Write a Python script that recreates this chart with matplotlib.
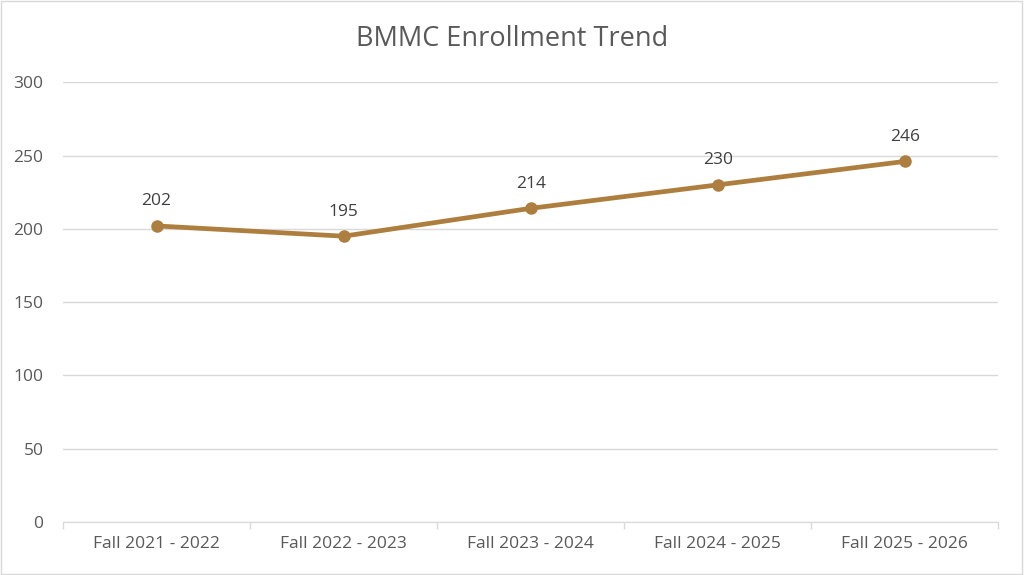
import numpy as np
import matplotlib
matplotlib.use("Agg")
import matplotlib.pyplot as plt
from matplotlib.patches import Rectangle

# Chart data
terms = ["Fall 2021 - 2022", "Fall 2022 - 2023", "Fall 2023 - 2024",
         "Fall 2024 - 2025", "Fall 2025 - 2026"]
enrollment = [202, 195, 214, 230, 246]
y_ticks = [0, 50, 100, 150, 200, 250, 300]

line_color = "#AD7E3E"
text_color = "#595959"
grid_color = "#D9D9D9"

plt.rcParams["font.family"] = ["Open Sans", "DejaVu Sans"]

fig = plt.figure(figsize=(10.24, 5.75), dpi=100)
ax = fig.add_axes([0.0615, 0.092, 0.9135, 0.765])

x = np.arange(len(terms))
ax.plot(x, enrollment, color=line_color, linewidth=3.4, marker="o",
        markersize=8, zorder=3)

for xi, v in zip(x, enrollment):
    ax.annotate(str(v), (xi, v), xytext=(0, 12), textcoords="offset points",
                ha="center", va="bottom", fontsize=12.5, color="#404040")

ax.set_xlim(-0.5, len(terms) - 0.5)
ax.set_ylim(0, 300)
ax.set_yticks(y_ticks)
ax.set_yticklabels([str(t) for t in y_ticks], fontsize=12.5, color=text_color)
ax.yaxis.grid(True, color=grid_color, linewidth=1)
ax.set_axisbelow(True)
ax.tick_params(axis="y", length=0, pad=14)

# category labels centered, tick marks at band edges
ax.set_xticks(x)
ax.set_xticklabels(terms, fontsize=12.5, color=text_color)
ax.tick_params(axis="x", which="major", length=0, pad=10)
ax.set_xticks(np.arange(-0.5, len(terms)), minor=True)
ax.tick_params(axis="x", which="minor", length=5, color=grid_color, width=1)

for s in ["top", "right", "left"]:
    ax.spines[s].set_visible(False)
ax.spines["bottom"].set_color(grid_color)

fig.text(0.5, 0.932, "BMMC Enrollment Trend", ha="center", va="center",
         fontsize=19.5, color=text_color)

# light border around the chart
fig.patches.append(Rectangle((0.001, 0.002), 0.997, 0.996, transform=fig.transFigure,
                             fill=False, edgecolor="#D9D9D9", linewidth=1))

fig.savefig("out.png", dpi=100)
